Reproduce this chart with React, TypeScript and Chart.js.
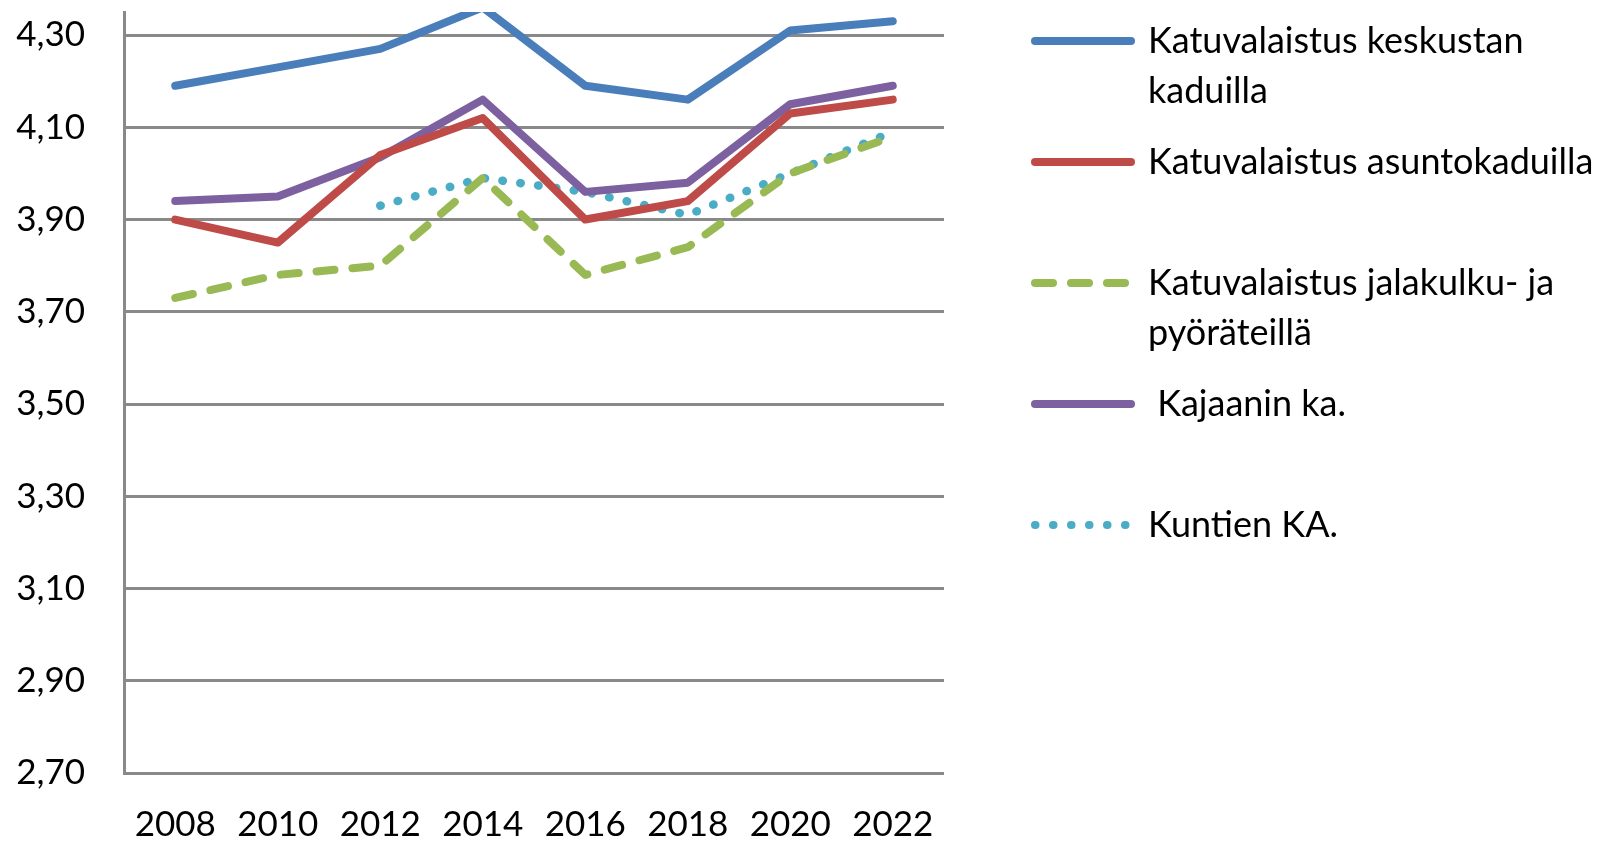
import React, { useEffect, useRef } from 'react';
import { Chart, registerables } from 'chart.js';
Chart.register(...registerables);

const years = ['2008', '2010', '2012', '2014', '2016', '2018', '2020', '2022'];
const keskusta = [4.19, 4.23, 4.27, 4.36, 4.19, 4.16, 4.31, 4.33];
const asunto = [3.9, 3.85, 4.04, 4.12, 3.9, 3.94, 4.13, 4.16];
const jalankulku = [3.73, 3.78, 3.8, 3.99, 3.78, 3.84, 4.0, 4.08];
const kajaani = [3.94, 3.95, 4.035, 4.16, 3.96, 3.98, 4.15, 4.19];
const kunnat = [null, null, 3.93, 3.99, 3.96, 3.91, 4.0, 4.09];
const yTicks = [2.7, 2.9, 3.1, 3.3, 3.5, 3.7, 3.9, 4.1, 4.3];
const seriesNames = [
  'Katuvalaistus keskustan kaduilla',
  'Katuvalaistus asuntokaduilla',
  'Katuvalaistus jalakulku- ja pyöräteillä',
  ' Kajaanin ka.',
  'Kuntien KA.',
];
const legendLines = [
  ['Katuvalaistus keskustan', 'kaduilla'],
  ['Katuvalaistus asuntokaduilla'],
  ['Katuvalaistus jalakulku- ja', 'pyöräteillä'],
  [' Kajaanin ka.'],
  ['Kuntien KA.'],
];

const FONT = 'Lato, "Open Sans", sans-serif';
const FONT_SIZE = 35;
const LEGEND_FONT_SIZE = 36;

const sideLegend = {
  id: 'sideLegend',
  afterDraw(chart: any) {
    const ctx = chart.ctx;
    ctx.save();
    ctx.font = `${LEGEND_FONT_SIZE}px ${FONT}`;
    ctx.textBaseline = 'middle';
    ctx.textAlign = 'left';
    chart.data.datasets.forEach((ds: any, i: number) => {
      const y = 41 + i * 121;
      ctx.beginPath();
      ctx.strokeStyle = ds.borderColor;
      ctx.lineWidth = 8;
      ctx.lineCap = 'round';
      ctx.setLineDash(ds.borderDash || []);
      ctx.moveTo(1035, y);
      ctx.lineTo(1131, y);
      ctx.stroke();
      ctx.setLineDash([]);
      ctx.fillStyle = '#000';
      legendLines[i].forEach((t, j) => ctx.fillText(t, 1148, y + j * 50));
    });
    ctx.restore();
  },
};

export default function App() {
  const ref = useRef<HTMLCanvasElement>(null);
  useEffect(() => {
    document.body.style.margin = '0';
    document.body.style.overflow = 'hidden';
    const lineBase = {
      tension: 0,
      pointRadius: 0,
      borderWidth: 8,
      borderCapStyle: 'round',
      borderJoinStyle: 'round',
      fill: false,
    };
    const chart = new Chart(ref.current!, {
      type: 'line',
      data: {
        labels: years,
        datasets: [
          { ...lineBase, label: seriesNames[0], data: keskusta, borderColor: '#4A7EBB', backgroundColor: '#4A7EBB' },
          { ...lineBase, label: seriesNames[1], data: asunto, borderColor: '#BE4B48', backgroundColor: '#BE4B48' },
          { ...lineBase, label: seriesNames[2], data: jalankulku, borderColor: '#98B954', backgroundColor: '#98B954', borderDash: [18, 18] },
          { ...lineBase, label: seriesNames[3], data: kajaani, borderColor: '#7D60A0', backgroundColor: '#7D60A0' },
          { ...lineBase, label: seriesNames[4], data: kunnat, borderColor: '#4BACC6', backgroundColor: '#4BACC6', borderWidth: 8.5, borderDash: [0.5, 17.5] },
        ],
      } as any,
      options: {
        animation: false,
        responsive: false,
        maintainAspectRatio: false,
        layout: { padding: { top: 12, right: 679, left: 0, bottom: 0 } },
        plugins: { legend: { display: false }, tooltip: { enabled: false } },
        scales: {
          x: {
            type: 'category',
            offset: true,
            grid: { display: false, drawTicks: false },
            border: { display: false },
            ticks: { color: '#000', font: { family: FONT, size: FONT_SIZE }, padding: 31, maxRotation: 0 },
            afterFit: (s: any) => { s.height = 68; s.paddingLeft = 0; s.paddingRight = 0; },
          },
          y: {
            min: 2.7,
            max: 4.35,
            grid: { color: '#898989', lineWidth: 3, drawTicks: false },
            border: { display: true, color: '#898989', width: 3 },
            afterBuildTicks: (s: any) => { s.ticks = yTicks.map((v) => ({ value: v })); },
            ticks: {
              color: '#000',
              font: { family: FONT, size: FONT_SIZE },
              padding: 39,
              callback: (v: any) => Number(v).toFixed(2).replace('.', ','),
            },
            afterFit: (s: any) => { s.width = 124; s.paddingTop = 0; s.paddingBottom = 0; },
          },
        },
      } as any,
      plugins: [sideLegend],
    });
    return () => chart.destroy();
  }, []);
  return (
    <div style={{ width: 1623, height: 841, background: '#fff' }}>
      <canvas ref={ref} width={1623} height={841} style={{ display: 'block' }} />
    </div>
  );
}
